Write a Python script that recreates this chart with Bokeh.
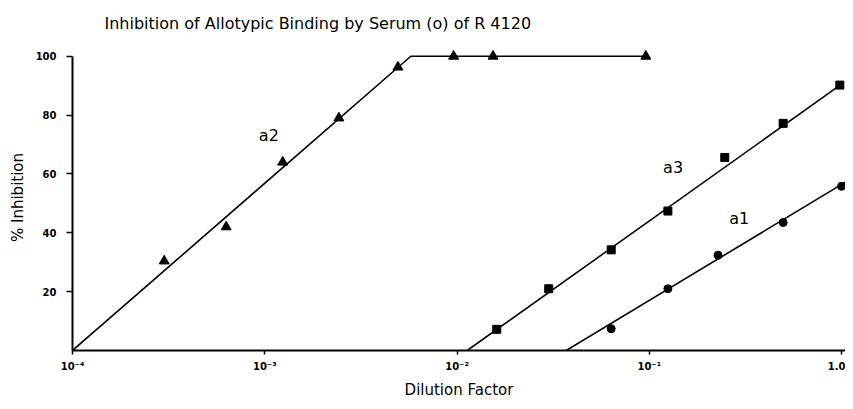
from bokeh.plotting import figure
from bokeh.models import FixedTicker, Label, Range1d
from bokeh.embed import file_html
from bokeh.resources import INLINE

# ---- data ----
a2_x = [3.0e-4, 6.3e-4, 1.24e-3, 2.43e-3, 4.93e-3, 9.6e-3, 0.0154, 0.096]
a2_y = [30.4, 42.0, 64.0, 79.0, 96.3, 100.0, 100.0, 100.0]
a3_x = [0.0161, 0.030, 0.0634, 0.125, 0.247, 0.497, 0.98]
a3_y = [7.2, 21.0, 34.2, 47.4, 65.6, 77.2, 90.2]
a1_x = [0.0634, 0.125, 0.228, 0.497, 1.0]
a1_y = [7.4, 21.0, 32.4, 43.5, 55.8]

# fitted lines
a2_fit_x = [1.0e-4, 5.75e-3, 0.096]
a2_fit_y = [0.0, 100.0, 100.0]
a3_fit_x = [0.0113, 1.0]
a3_fit_y = [0.0, 90.5]
a1_fit_x = [0.037, 1.175]
a1_fit_y = [0.0, 59.2]

x_ticks = [1e-4, 1e-3, 1e-2, 1e-1, 1.0]
x_tick_labels = ["10\u207b\u2074", "10\u207b\u00b3", "10\u207b\u00b2", "10\u207b\u00b9", "1.0"]
y_ticks = [20, 40, 60, 80, 100]

TITLE = "Inhibition of Allotypic Binding by Serum (o) of R 4120"
X_LABEL = "Dilution Factor"
Y_LABEL = "% Inhibition"

FONT = "DejaVu Sans"

p = figure(width=845, height=401, x_axis_type="log",
           x_range=Range1d(1e-4, 1.049), y_range=Range1d(0, 104),
           output_backend="svg", toolbar_location=None,
           min_border_left=72, min_border_right=0,
           min_border_top=44, min_border_bottom=49)

p.title.text = TITLE
p.title.text_font = FONT
p.title.text_font_size = "16px"
p.title.text_font_style = "normal"
p.title.text_color = "black"
p.title.align = "left"
p.title.offset = 32
p.title.standoff = 23

p.outline_line_color = None
p.grid.visible = False

for ax in (p.xaxis[0], p.yaxis[0]):
    ax.axis_line_width = 2
    ax.axis_line_color = "black"
    ax.major_tick_line_width = 1.5
    ax.major_tick_line_color = "black"
    ax.minor_tick_line_color = None
    ax.major_tick_in = 0
    ax.major_label_text_font = FONT
    ax.major_label_text_font_style = "bold"
    ax.major_label_text_font_size = "10px"
    ax.major_label_text_color = "black"
    ax.axis_label_text_font = FONT
    ax.axis_label_text_font_style = "normal"
    ax.axis_label_text_font_size = "15px"
    ax.axis_label_text_color = "black"

p.xaxis.ticker = FixedTicker(ticks=x_ticks)
p.xaxis.major_label_overrides = dict(zip(x_ticks, x_tick_labels))
p.xaxis.major_tick_out = 4
p.xaxis.major_label_standoff = 6
p.xaxis.axis_label = X_LABEL
p.xaxis.axis_label_standoff = 6

p.yaxis.ticker = FixedTicker(ticks=y_ticks)
p.yaxis.bounds = (0, 100)
p.yaxis.major_tick_out = 6
p.yaxis.major_label_standoff = 10
p.yaxis.axis_label = Y_LABEL
p.yaxis.axis_label_standoff = 6

# lines
p.line(a2_fit_x, a2_fit_y, line_color="black", line_width=1.6)
p.line(a3_fit_x, a3_fit_y, line_color="black", line_width=1.6)
p.line(a1_fit_x, a1_fit_y, line_color="black", line_width=1.6)

# markers
p.scatter(a2_x, a2_y, marker="triangle", size=10, color="black")
p.scatter(a3_x, a3_y, marker="square", size=8, color="black")
p.scatter(a1_x, a1_y, marker="circle", size=8, color="black")

for txt, lx, ly in [("a2", 1.05e-3, 73), ("a3", 0.133, 62.2), ("a1", 0.294, 45)]:
    p.add_layout(Label(x=lx, y=ly, text=txt, text_font=FONT, text_font_size="16px",
                       text_align="center", text_baseline="middle", text_color="black"))

open("out.html", "w").write(file_html(p, INLINE))
